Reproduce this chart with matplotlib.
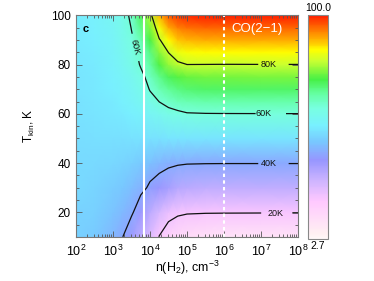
import numpy as np
import matplotlib
matplotlib.use('Agg')
import matplotlib.pyplot as plt
from matplotlib.colors import LinearSegmentedColormap, Normalize
from matplotlib.ticker import LogLocator, MultipleLocator, NullFormatter, FixedLocator
import matplotlib.cm as cm

plt.rcParams['font.family'] = ['Liberation Sans', 'DejaVu Sans']
plt.rcParams['mathtext.fontset'] = 'custom'
plt.rcParams['mathtext.rm'] = 'Liberation Sans'
plt.rcParams['mathtext.it'] = 'Liberation Sans:italic'
plt.rcParams['mathtext.default'] = 'regular'

# ---- data: T_ex of CO(2-1) on a grid of log n(H2) x T_kin ----
log_n = [2.0, 2.5, 3.0, 3.25, 3.5, 3.75, 4.0, 4.25, 4.5, 4.75, 5.0, 5.5, 6.0, 7.0, 8.0]
t_kin = [10, 20, 30, 40, 50, 60, 65, 70, 75, 80, 85, 90, 95, 100]
tex_10 = [46.5, 45.5, 42.5, 40.2, 36.0, 30.5, 25.5, 19.7, 15.8, 13.5, 12.2, 10.9, 10.3, 10.1, 10.05]
tex_20 = [47.0, 46.5, 44.5, 42.8, 40.8, 35.8, 30.5, 26.5, 22.6, 21.2, 20.6, 20.4, 20.35, 20.3, 20.3]
tex_30 = [48.0, 47.5, 46.0, 45.0, 43.6, 41.8, 38.7, 36.4, 34.4, 31.9, 31.0, 30.4, 30.2, 30.1, 30.1]
tex_40 = [48.3, 48.1, 47.6, 47.2, 46.5, 45.5, 44.0, 42.6, 41.4, 40.8, 40.4, 40.25, 40.2, 40.2, 40.2]
tex_50 = [49.0, 49.1, 49.3, 49.4, 49.5, 49.6, 49.7, 49.8, 49.9, 50.0, 50.0, 50.0, 50.0, 50.0, 50.0]
tex_60 = [49.6, 49.9, 50.6, 51.2, 52.0, 53.2, 54.5, 56.2, 58.1, 58.8, 59.6, 59.8, 59.85, 59.9, 59.9]
tex_65 = [49.8, 50.3, 51.2, 52.2, 53.5, 55.3, 57.6, 60.1, 61.8, 63.2, 64.1, 64.7, 64.9, 64.95, 64.95]
tex_70 = [50.0, 50.6, 51.8, 53.0, 54.7, 57.0, 60.4, 63.8, 66.3, 68.0, 69.0, 69.7, 69.9, 69.95, 69.95]
tex_75 = [50.2, 50.9, 52.3, 53.9, 55.8, 58.5, 62.5, 67.0, 70.5, 72.8, 74.0, 74.8, 74.9, 74.95, 74.95]
tex_80 = [50.5, 51.3, 53.0, 55.0, 57.5, 60.5, 65.5, 72.5, 76.5, 79.0, 79.95, 79.9, 79.85, 79.9, 79.9]
tex_85 = [50.8, 51.6, 53.5, 55.8, 58.5, 61.5, 68.0, 76.0, 80.1, 83.0, 84.3, 84.85, 84.9, 84.95, 84.95]
tex_90 = [51.0, 51.9, 54.0, 56.3, 59.2, 64.0, 72.0, 79.5, 85.0, 88.0, 89.3, 89.9, 89.95, 90.0, 90.0]
tex_95 = [51.3, 52.2, 54.5, 57.0, 60.2, 67.5, 75.5, 84.0, 90.0, 92.8, 94.2, 94.8, 95.0, 95.0, 95.0]
tex_100 = [51.5, 52.5, 55.0, 57.5, 61.5, 70.0, 78.5, 89.0, 95.5, 98.0, 99.2, 99.8, 100.0, 100.0, 100.0]
contour_levels = [20, 40, 60, 80]
x_tick_exps = [2, 3, 4, 5, 6, 7, 8]
y_ticks = [20, 40, 60, 80, 100]
n_solid_line = 7.0e3
n_dashed_line = 1.0e6
cbar_min, cbar_max = 2.7, 100.0

# ---- colour table ----
stop_vals = [2.7, 5.0, 19.0, 28.0, 37.0, 45.0, 52.0, 59.5, 66.0, 72.0, 80.0, 85.0, 88.0, 93.0, 100.0]
stop_cols = [(255, 248, 248), (255, 240, 242), (255, 200, 255), (205, 180, 255), (150, 150, 255),
             (120, 200, 255), (120, 240, 255), (120, 255, 225), (100, 255, 160), (70, 240, 70),
             (200, 255, 50), (255, 255, 0), (255, 200, 0), (255, 130, 0), (255, 30, 0)]
pos = [(v - cbar_min) / (cbar_max - cbar_min) for v in stop_vals]
cmap = LinearSegmentedColormap.from_list('idl', list(zip(pos, [tuple(c / 255 for c in col) for col in stop_cols])))
norm = Normalize(cbar_min, cbar_max)

N = 10.0 ** np.array(log_n)
T = np.array(t_kin, dtype=float)
Z = np.array([tex_10, tex_20, tex_30, tex_40, tex_50, tex_60, tex_65, tex_70,
              tex_75, tex_80, tex_85, tex_90, tex_95, tex_100])

fig = plt.figure(figsize=(3.74, 2.81), dpi=100)
ax = fig.add_axes([0.203, 0.157, 0.594, 0.788])
ax.set_xscale('log')
ax.set_xlim(1e2, 1e8)
ax.set_ylim(10, 100)

ax.pcolormesh(N, T, Z, shading='gouraud', cmap=cmap, norm=norm, zorder=0)
cs = ax.contour(N, T, Z, levels=contour_levels, colors='#111111', linewidths=0.9, zorder=3)
manual = [(10 ** 3.6, 87), (10 ** 7.2, 80), (10 ** 7.06, 60), (10 ** 7.2, 40), (10 ** 7.38, 20)]
ax.clabel(cs, fmt='%dK', fontsize=6.5, manual=manual, inline=True, inline_spacing=6)
ax.set_xlim(1e2, 1e8)
ax.set_ylim(10, 100)

ax.axvline(n_solid_line, color='white', lw=1.5, zorder=4)
ax.axvline(n_dashed_line, color='white', lw=1.5, ls=(0, (1.6, 1.6)), zorder=4)

ax.xaxis.set_major_locator(FixedLocator([10.0 ** e for e in x_tick_exps]))
ax.set_xticklabels([r'$10^{%d}$' % e for e in x_tick_exps])
ax.xaxis.set_minor_locator(LogLocator(base=10, subs=np.arange(2, 10), numticks=20))
ax.xaxis.set_minor_formatter(NullFormatter())
ax.set_yticks(y_ticks)
ax.yaxis.set_minor_locator(MultipleLocator(5))
ax.tick_params(which='both', direction='in', top=True, right=True, colors='#555555',
               labelcolor='black', labelsize=8.5, width=0.6)
ax.tick_params(axis='x', labelsize=9, pad=5)
ax.tick_params(which='major', length=4)
ax.tick_params(which='minor', length=2)
for s in ax.spines.values():
    s.set_color('#777777')
    s.set_linewidth(0.8)
    s.set_zorder(5)

ax.set_xlabel(r'n(H$_2$), cm$^{-3}$', fontsize=9, labelpad=0)
ax.set_ylabel(r'T$_{kin}$, K', fontsize=8.5, labelpad=10)

ax.text(0.045, 0.937, 'c', transform=ax.transAxes, fontsize=8, fontweight='bold', ha='center', va='center', zorder=6)
ax.text(0.815, 0.937, 'CO(2\u22121)', transform=ax.transAxes, fontsize=9.5, color='white', ha='center', va='center', zorder=6)

cax = fig.add_axes([0.8235, 0.149, 0.0535, 0.798])
cb = fig.colorbar(cm.ScalarMappable(norm=norm, cmap=cmap), cax=cax)
cb.set_ticks([])
cb.outline.set_edgecolor('#888888')
cb.outline.set_linewidth(0.8)
cax.text(0.5, 1.008, '100.0', transform=cax.transAxes, ha='center', va='bottom', fontsize=7.5)
cax.text(0.5, -0.008, '2.7', transform=cax.transAxes, ha='center', va='top', fontsize=7.5)

fig.savefig('out.png', dpi=100)
